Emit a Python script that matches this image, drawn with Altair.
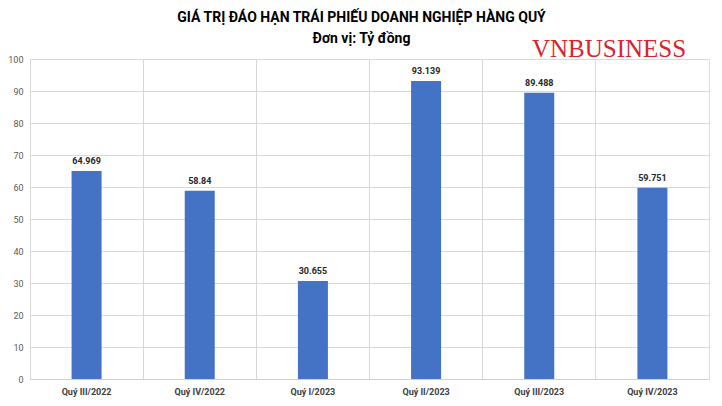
import altair as alt
import pandas as pd

quarters = ["Quý III/2022", "Quý IV/2022", "Quý I/2023", "Quý II/2023", "Quý III/2023", "Quý IV/2023"]
values = [64.969, 58.84, 30.655, 93.139, 89.488, 59.751]
labels = ["64.969", "58.84", "30.655", "93.139", "89.488", "59.751"]
title_lines = ["GIÁ TRỊ ĐÁO HẠN TRÁI PHIẾU DOANH NGHIỆP HÀNG QUÝ", "Đơn vị: Tỷ đồng"]
watermark = "VNBUSINESS"

df = pd.DataFrame({"q": quarters, "v": values, "lab": labels})

FONT = "Roboto"

x = alt.X("q:N", sort=quarters, title=None,
          scale=alt.Scale(paddingInner=0, paddingOuter=0),
          axis=alt.Axis(labelAngle=0, labelFontWeight="bold", labelFontSize=9, labelColor="#404040",
                        labelFont=FONT, ticks=False, domain=True, domainColor="#d0d0d0",
                        grid=True, gridColor="#d9d9d9", bandPosition=0, labelPadding=8))
y = alt.Y("v:Q", title=None,
          scale=alt.Scale(domain=[0, 100]),
          axis=alt.Axis(values=list(range(0, 101, 10)), labelFontSize=9, labelColor="#595959",
                        labelFont=FONT, ticks=False, domain=False, gridColor="#d9d9d9", labelPadding=7))

base = alt.Chart(df)
bars = base.mark_bar(size=30, color="#4472C4").encode(x=x, y=y)
text = base.mark_text(fontWeight="bold", fontSize=9, font=FONT, baseline="bottom", dy=-5, color="#262626").encode(
    x=x, y=y, text="lab:N")
wm = alt.Chart(pd.DataFrame({"t": [watermark]})).mark_text(
    font="Liberation Serif", fontSize=25, color="#d9232e", align="center", baseline="alphabetic"
).encode(x=alt.value(579), y=alt.value(-2), text="t:N")

chart = alt.layer(bars, text, wm).properties(
    width=679, height=320,
    title=alt.TitleParams(text=title_lines, fontSize=14, font=FONT, fontWeight="bold", anchor="middle",
                          lineHeight=21, offset=-9, dx=-8, color="#000000"),
    autosize=alt.AutoSizeParams(type="none"),
    padding={"left": 22, "top": 51, "right": 5, "bottom": 20},
).configure_view(stroke="#d9d9d9", fill="#efefef").configure(background="white")

chart.save("out.html", embed_options={"renderer": "svg", "actions": False})
